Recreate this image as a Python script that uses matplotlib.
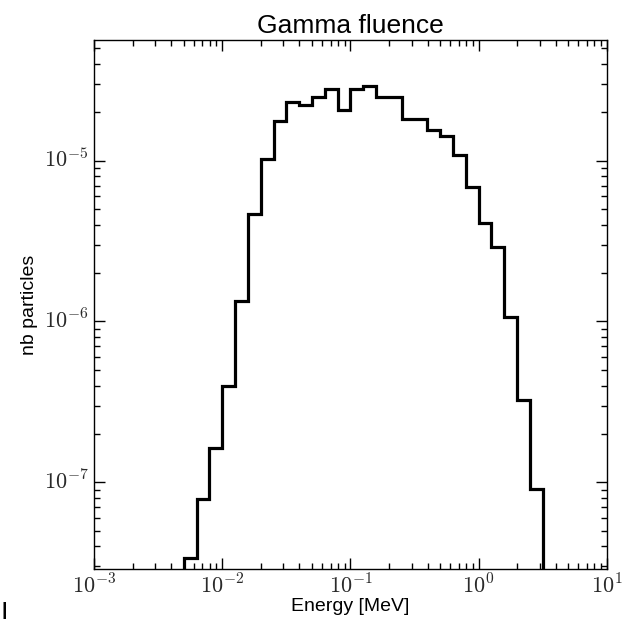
import matplotlib
matplotlib.use("Agg")
import matplotlib.pyplot as plt
import matplotlib.ticker as ticker
import numpy as np

# log10 of the bin edges (10 bins per decade) and the fluence per bin
log_edges = [-2.3, -2.2, -2.1, -2.0, -1.9, -1.8, -1.7, -1.6, -1.5, -1.4,
             -1.3, -1.2, -1.1, -1.0, -0.9, -0.8, -0.7, -0.6, -0.5, -0.4,
             -0.3, -0.2, -0.1, 0.0, 0.1, 0.2, 0.3, 0.4, 0.5]
fluence = [3.4e-8, 7.9e-8, 1.64e-7, 3.96e-7, 1.35e-6, 4.64e-6, 1.03e-5,
           1.76e-5, 2.30e-5, 2.23e-5, 2.48e-5, 2.77e-5, 2.05e-5, 2.80e-5,
           2.90e-5, 2.49e-5, 2.49e-5, 1.82e-5, 1.82e-5, 1.55e-5, 1.42e-5,
           1.09e-5, 6.86e-6, 4.11e-6, 2.90e-6, 1.07e-6, 3.23e-7, 9.1e-8]

plt.style.use("classic")
plt.rcParams["font.family"] = ["Liberation Sans", "DejaVu Sans"]
plt.rcParams["mathtext.fontset"] = "cm"

fig = plt.figure(figsize=(6.32, 6.19), dpi=100, facecolor="white")
ax = fig.add_axes([0.149, 0.081, 0.811, 0.854])

edges = 10.0 ** np.array(log_edges)
ax.stairs(fluence, edges, baseline=1e-12, color="black", linewidth=2.3)

ax.set_xscale("log")
ax.set_yscale("log")
ax.set_xlim(1e-3, 1e1)
ax.set_ylim(2.9e-8, 5.6e-5)

# powers of ten in computer modern
pow10 = ticker.FuncFormatter(lambda v, pos: r"$10^{%d}$" % round(np.log10(v)))
ax.xaxis.set_major_formatter(pow10)
ax.yaxis.set_major_formatter(pow10)

ax.tick_params(which="major", length=8, width=1, labelsize=16, pad=4,
               labelcolor="#2a2a2a")
ax.tick_params(axis="y", which="major", pad=4)
ax.tick_params(which="minor", length=4, width=1)

ax.set_title("Gamma fluence", fontsize=19, pad=5)
ax.set_xlabel("Energy [MeV]", fontsize=14, labelpad=0)
ax.set_ylabel("nb particles", fontsize=14, labelpad=4)

fig.text(0.003, 0.0, "|", fontsize=14, va="bottom", ha="left", weight="bold")

fig.savefig("out.png", dpi=100, facecolor="white")
